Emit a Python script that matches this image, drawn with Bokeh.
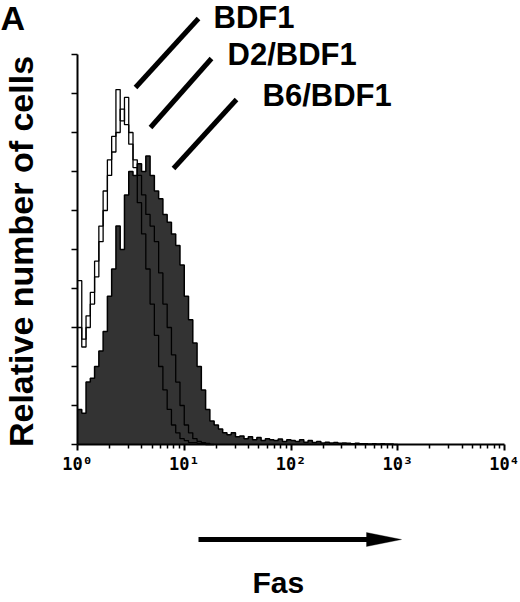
import numpy as np
from bokeh.plotting import figure
from bokeh.models import Range1d, FixedTicker, Label, Arrow, PolyAnnotation
from bokeh.embed import file_html
from bokeh.resources import INLINE

# ---------------- data ----------------
LOG_BIN_WIDTH = 0.04   # histogram channel width in log10 units

# B6/BDF1 (filled histogram), relative counts per channel
b6_bdf1 = [0.9, 0.8, 1.6, 1.7, 2.0, 2.4, 2.9, 3.8, 4.5, 5.6,
           5.0, 6.4, 7.0, 6.9, 7.2, 7.0, 7.4, 6.9, 6.5, 6.3,
           5.9, 5.7, 5.4, 5.1, 4.6, 3.8, 3.2, 2.6, 2.0, 1.4,
           0.9, 0.6, 0.5, 0.4, 0.3, 0.25, 0.3, 0.2, 0.22, 0.15,
           0.2, 0.12, 0.18, 0.1, 0.15, 0.12, 0.1, 0.14, 0.08, 0.12,
           0.1, 0.08, 0.12, 0.06, 0.1, 0.05, 0.08, 0.04, 0.06, 0.04,
           0.05, 0.03, 0.04, 0.03, 0.02, 0.03, 0.02, 0.02, 0.01, 0.02,
           0.01, 0.02, 0.01, 0.01, 0.0]

# BDF1 (open histogram)
bdf1 = [4.2, 2.7, 3.3, 3.9, 4.7, 5.6, 6.5, 7.3, 7.9, 9.1,
        8.3, 8.9, 8.0, 7.1, 6.2, 5.4, 4.5, 3.6, 2.8, 2.0,
        1.4, 0.9, 0.5, 0.3, 0.15, 0.1, 0.05, 0.05, 0.03, 0.02,
        0.0]

# D2/BDF1 (open histogram)
d2_bdf1 = [3.0, 2.5, 3.0, 3.6, 4.3, 5.2, 6.0, 6.9, 7.5, 8.0,
           8.6, 8.2, 7.7, 7.3, 6.9, 6.4, 5.9, 5.6, 5.2, 4.4,
           3.6, 3.0, 2.3, 1.6, 1.0, 0.5, 0.3, 0.15, 0.08, 0.05,
           0.03, 0.0]

x_tick_values = [1, 10, 100, 1000, 10000]
x_tick_labels = ["10⁰", "10¹", "10²", "10³", "10⁴"]
y_tick_values = [0, 1, 2, 3, 4, 5, 6, 7, 8, 9, 10]
series_names = ["BDF1", "D2/BDF1", "B6/BDF1"]
y_title = "Relative number of cells"
x_title = "Fas"
panel_letter = "A"

# ---------------- layout helpers (page pixels -> data) ----------------
W, H = 520, 602
AXIS_X_PX, AXIS_Y_PX = 77, 444          # where the axes cross on the page
PX_PER_DECADE, PX_PER_UNIT = 106.75, 39.0
BASELINE_FIX = 0.36                     # em shift so glyph baselines land where wanted


def px_x(px):
    return 10 ** ((px - AXIS_X_PX) / PX_PER_DECADE)


def px_y(py):
    return (AXIS_Y_PX - py) / PX_PER_UNIT


def step_xy(vals):
    edges = 10 ** (np.arange(len(vals) + 1) * LOG_BIN_WIDTH)
    ys = list(vals) + [vals[-1]]
    return edges, ys


p = figure(width=W, height=H, x_axis_type="log",
           x_range=Range1d(px_x(0), px_x(W)), y_range=Range1d(px_y(H), px_y(0)),
           output_backend="svg", toolbar_location=None, min_border=0)
p.outline_line_color = None
p.xgrid.grid_line_color = None
p.ygrid.grid_line_color = None
p.background_fill_color = "white"
p.border_fill_color = "white"

# filled histogram
ex, ey = step_xy(b6_bdf1)
p.varea_step(x=ex, y1=[0] * len(ex), y2=ey, step_mode="after",
             fill_color="#333333")
p.step(x=ex, y=ey, mode="after", line_color="black", line_width=1.5)

# open histograms
for vals in (bdf1, d2_bdf1):
    sx, sy = step_xy(vals)
    p.step(x=sx, y=sy, mode="after", line_color="black", line_width=1.3)

# ---------------- axes (fixed at the data origin) ----------------
minor = [m * 10 ** d for d in range(4) for m in range(2, 10)]
xa = p.xaxis[0]
xa.fixed_location = 0
xa.bounds = (x_tick_values[0], x_tick_values[-1])
xa.ticker = FixedTicker(ticks=x_tick_values, minor_ticks=minor)
xa.major_label_overrides = {v: s for v, s in zip(x_tick_values, x_tick_labels)}
xa.major_label_text_font = "DejaVu Sans Mono"
xa.major_label_text_font_style = "bold"
xa.major_label_text_font_size = "17px"
xa.major_label_text_color = "black"
xa.major_label_standoff = 3
xa.axis_line_width = 2
xa.axis_line_color = "black"
xa.major_tick_out = 6
xa.major_tick_in = 0
xa.minor_tick_out = 4
xa.minor_tick_in = 0
xa.major_tick_line_width = 2
xa.minor_tick_line_width = 1.5
xa.major_tick_line_color = "black"
xa.minor_tick_line_color = "black"

ya = p.yaxis[0]
ya.fixed_location = 1
ya.bounds = (y_tick_values[0], y_tick_values[-1])
ya.ticker = FixedTicker(ticks=y_tick_values)
ya.major_label_overrides = {v: "" for v in y_tick_values}
ya.axis_line_width = 2
ya.axis_line_color = "black"
ya.major_tick_out = 6
ya.major_tick_in = 0
ya.minor_tick_line_color = None
ya.major_tick_line_width = 1.5
ya.major_tick_line_color = "black"

FONT = "Liberation Sans"


def add_text(text, left, baseline, size, align="left", rotated=False):
    shift = BASELINE_FIX * size
    if rotated:
        x, y, angle = px_x(left - shift), px_y(baseline), np.pi / 2
    else:
        x, y, angle = px_x(left), px_y(baseline - shift), 0.0
    p.add_layout(Label(x=x, y=y, text=text, angle=angle,
                       text_align=align, text_baseline="alphabetic",
                       text_font=FONT, text_font_style="bold",
                       text_font_size=f"{size}px", text_color="black"))


# y title (rotated): baseline at x=33, centred at y=251
add_text(y_title, 33, 251, 34, align="center", rotated=True)

# panel letter
add_text(panel_letter, 0, 30, 34)

# series labels with pointer lines
label_pos = [(213, 28), (227, 65), (262, 106)]
pointer_lines = [((135, 87), (198, 18)), ((150, 127), (211, 58)),
                 ((173, 168), (236, 99))]
for name, (lx, ly), ((ax0, ay0), (ax1, ay1)) in zip(series_names, label_pos, pointer_lines):
    add_text(name, lx, ly, 31)
    p.add_layout(Arrow(end=None, x_start=px_x(ax0), y_start=px_y(ay0),
                       x_end=px_x(ax1), y_end=px_y(ay1),
                       line_width=5, line_color="black"))

# x title arrow and text
p.add_layout(Arrow(end=None, x_start=px_x(198), y_start=px_y(539),
                   x_end=px_x(372), y_end=px_y(539),
                   line_width=5, line_color="black"))
p.add_layout(PolyAnnotation(xs=[px_x(366), px_x(366), px_x(401)],
                            ys=[px_y(532), px_y(546), px_y(539)],
                            fill_color="black", fill_alpha=1.0,
                            line_color="black", line_width=1))
add_text(x_title, 252, 593, 30)

open("out.html", "w").write(file_html(p, INLINE))
